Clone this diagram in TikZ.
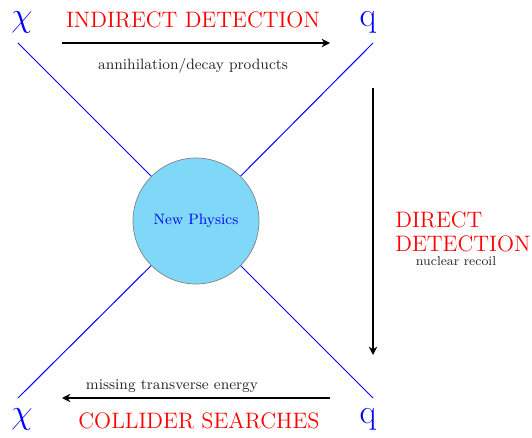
\documentclass[tikz,border=0pt]{standalone}
\usetikzlibrary{arrows.meta}
\definecolor{npfill}{RGB}{128,216,248}
\tikzset{
  particle/.style={text=blue,font=\huge,inner sep=0pt},
  leg/.style={blue,line width=0.6pt},
  process/.style={text=red,font=\fontsize{13.4}{14}\selectfont,inner sep=0pt},
  note/.style={text=black!85,font=\small,inner sep=0pt},
  flow/.style={line width=1.2pt,-{Stealth[length=5pt,width=5pt]}},
  blob/.style={circle,draw=black!50,fill=npfill,minimum size=75.6pt,inner sep=0pt,text=blue,font=\small}
}
\begin{document}
\begin{tikzpicture}[x=0.6pt,y=-0.6pt]
\useasboundingbox (0,0) rectangle (532,438);
% particles
\node[particle] (chiTL) at (22,22) {$\chi$};
\node[particle] (qTR) at (368,22) {q};
\node[particle] (chiBL) at (22,419) {$\chi$};
\node[particle] (qBR) at (368,419) {q};
% leg endpoints
\coordinate (tl) at (18,43);
\coordinate (tr) at (373,43);
\coordinate (bl) at (18,398);
\coordinate (br) at (373,398);
\coordinate (c) at (196,221);
\draw[leg] (tl) -- (c);
\draw[leg] (tr) -- (c);
\draw[leg] (bl) -- (c);
\draw[leg] (br) -- (c);
\node[blob] (np) at (c) {New Physics};
% indirect
\coordinate (a1) at (62,43);
\coordinate (a2) at (330,43);
\draw[flow] (a1) -- (a2);
\node[process] (ind) at (193,20) {INDIRECT DETECTION};
\node[note] (ann) at (193,66) {annihilation/decay products};
% direct
\coordinate (d1) at (373,88);
\coordinate (d2) at (373,355);
\draw[flow] (d1) -- (d2);
\node[process,align=left,anchor=west] (dir) at (395,232) {DIRECT\\DETECTION};
\node[note,font=\fontsize{7.8}{9}\selectfont] (nuc) at (456,261) {nuclear recoil};
% collider
\coordinate (c1) at (330,398);
\coordinate (c2) at (62,398);
\draw[flow] (c1) -- (c2);
\node[note] (met) at (172,386) {missing transverse energy};
\node[process] (col) at (199,421) {COLLIDER SEARCHES};
\end{tikzpicture}
\end{document}
